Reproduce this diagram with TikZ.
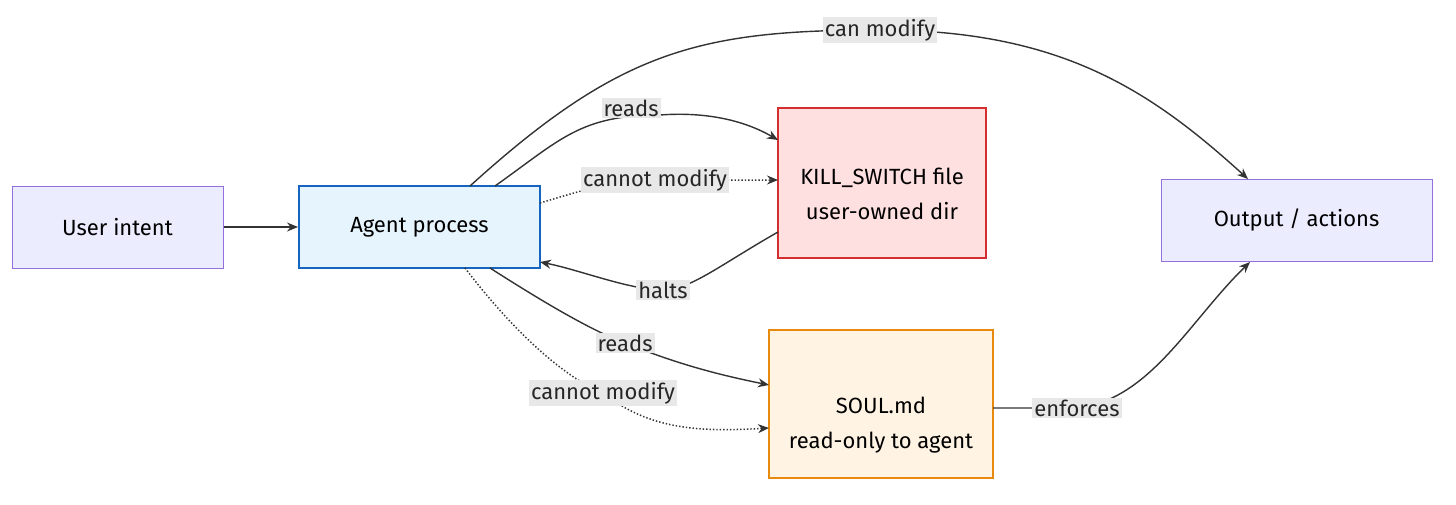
\documentclass[tikz,border=0pt]{standalone}
\usepackage{fontspec}
\setmainfont{Fira Sans}
\usetikzlibrary{shapes.geometric,arrows.meta}
\definecolor{pfill}{HTML}{ECECFF}\definecolor{pline}{HTML}{9370DB}
\definecolor{afill}{HTML}{E6F4FD}\definecolor{aline}{HTML}{1565C0}
\definecolor{kfill}{HTML}{FFE0E0}\definecolor{kline}{HTML}{D32F2F}
\definecolor{sfill}{HTML}{FFF3E3}\definecolor{sline}{HTML}{E88A0C}
\definecolor{lbl}{HTML}{E8E8E8}\definecolor{edge}{HTML}{333333}
\begin{document}
\begin{tikzpicture}[x=1pt,y=-1pt,font=\fontsize{22}{29}\selectfont,
 box/.style={draw=pline,fill=pfill,line width=1pt,minimum height=82pt,align=center,inner sep=0},
 cyl/.style={cylinder,shape border rotate=90,aspect=0.3,line width=2pt,align=center,inner sep=0},
 e/.style={draw=edge,line width=1.4pt,-{Stealth[length=11pt,width=9pt]}},
 d/.style={e,dotted,line width=1.5pt},
 l/.style={fill=lbl,inner sep=2pt,text=black!85}]
\useasboundingbox (0,0) rectangle (1456,504);
\node[box,minimum width=211pt] (u) at (117.5,227) {User intent};
\node[box,draw=aline,fill=afill,line width=2pt,minimum width=241pt] (a) at (419.5,227) {Agent process};
\node[box,minimum width=271pt] (o) at (1296.5,220) {Output / actions};
\node[cyl,draw=kline,fill=kfill,minimum width=208pt,minimum height=150pt] (k) at (882,183) {};
\node (kt) at (882,194) [align=center] {KILL\_SWITCH file\\[6pt]user-owned dir};
\node[cyl,draw=sline,fill=sfill,minimum width=224pt,minimum height=148pt] (s) at (881,404) {};
\node (st) at (881,425) [align=center] {SOUL.md\\[6pt]read-only to agent};
\coordinate (oa) at (1248,179); \coordinate (ob) at (1250,262);
\draw[e] (u) -- (a);
\draw[e] (470,186) .. controls (620,50) and (700,30) .. (880,30) node[l]{can modify} .. controls (1060,30) and (1150,90) .. (oa);
\draw[e] (495,186) .. controls (560,140) and (580,115) .. (660,115) .. controls (700,112) and (740,118) .. (778,140);
\node[l] at (631,108) {reads};
\draw[d] (540,203) .. controls (600,185) .. (655,180) node[l]{cannot modify} -- (778,180);
\draw[e] (778,232) .. controls (720,265) and (690,290) .. (663,290) node[l]{halts} .. controls (630,290) and (580,270) .. (540,262);
\draw[e] (490,268) .. controls (540,300) and (590,330) .. (625,343) node[l]{reads} .. controls (680,365) and (720,375) .. (769,385);
\draw[d] (465,268) .. controls (520,340) and (570,380) .. (603,393) node[l]{cannot modify} .. controls (650,430) and (700,432) .. (769,428);
\draw[e] (993,408) -- (1077,408) node[l]{enforces} .. controls (1150,400) and (1190,320) .. (ob);
\end{tikzpicture}
\end{document}
